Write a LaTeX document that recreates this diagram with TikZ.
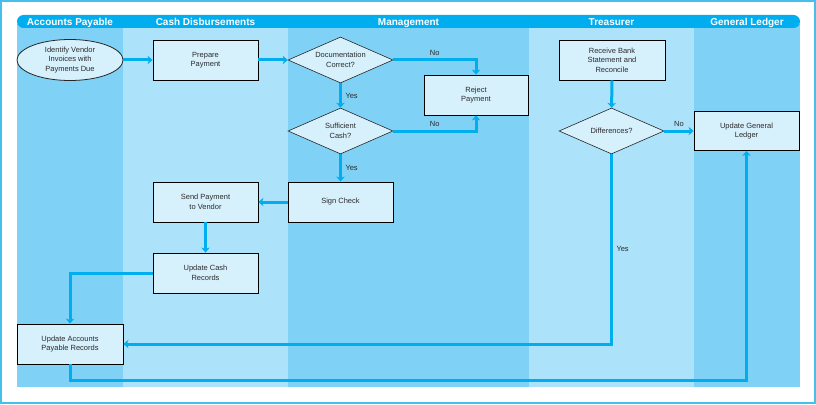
\documentclass[tikz,border=0pt]{standalone}
\usepackage{fontspec}
\setmainfont{Liberation Sans}
\usetikzlibrary{shapes.geometric,arrows.meta}
\definecolor{cyanline}{HTML}{00AEEF}
\definecolor{framec}{HTML}{45BFEC}
\definecolor{lanemid}{HTML}{7FD1F5}
\definecolor{lanelight}{HTML}{ACE2FA}
\definecolor{nodefill}{HTML}{D6F0FC}
\definecolor{txt}{HTML}{2B2B2B}
\begin{document}
\begin{tikzpicture}[x=1pt,y=-1pt,
  font=\fontsize{7.5}{9.5}\selectfont,
  stepbox/.style={draw=black, line width=0.9pt, fill=nodefill, text=txt, align=center,
    minimum width=105pt, minimum height=40pt, inner sep=0pt},
  decision/.style={diamond, draw=black!85, line width=0.6pt, fill=nodefill, text=txt, align=center,
    minimum width=105pt, minimum height=46pt, inner sep=0pt, shape aspect=2.28},
  terminal/.style={ellipse, draw=black!85, line width=0.8pt, fill=nodefill, text=txt, align=center,
    minimum width=106pt, minimum height=41pt, inner sep=0pt},
  conn/.style={draw=cyanline, line width=3pt, -{Stealth[length=5pt,width=8.5pt,inset=1.5pt]}},
  lbl/.style={text=txt, inner sep=1.5pt},
  hdrtext/.style={text=white, font=\fontsize{10}{12}\selectfont\bfseries, anchor=base, inner sep=0pt}
]
\useasboundingbox (0,0) rectangle (816,404);
\fill[white] (0,0) rectangle (816,404);
\draw[framec, line width=1.5pt] (1,1) rectangle (815,403);
% lanes
\fill[lanemid] (17,24) rectangle (123,387);
\fill[lanelight] (123,24) rectangle (288,387);
\fill[lanemid] (288,24) rectangle (529,387);
\fill[lanelight] (529,24) rectangle (694,387);
\fill[lanemid] (694,24) rectangle (800,387);
% header
\fill[cyanline, rounded corners=6.5pt] (17,15) rectangle (800,28);
\node[hdrtext] (h1) at (70,25.3) {Accounts Payable};
\node[hdrtext] (h2) at (205.5,25.3) {Cash Disbursements};
\node[hdrtext] (h3) at (408.5,25.3) {Management};
\node[hdrtext] (h4) at (611.5,25.3) {Treasurer};
\node[hdrtext] (h5) at (747,25.3) {General Ledger};
% nodes
\node[terminal] (ident) at (70,60) {Identify Vendor\\Invoices with\\Payments Due};
\node[stepbox] (prep) at (205.5,60) {Prepare\\Payment};
\node[decision] (doc) at (340.5,60) {Documentation\\Correct?};
\node[stepbox, minimum width=104pt] (reject) at (476,95) {Reject\\Payment};
\node[decision] (suff) at (340.5,131) {Sufficient\\Cash?};
\node[stepbox] (sign) at (340.5,202) {Sign Check};
\node[stepbox] (send) at (205.5,202) {Send Payment\\to Vendor};
\node[stepbox] (cash) at (205.5,273) {Update Cash\\Records};
\node[stepbox, minimum width=106pt] (apr) at (70,344) {Update Accounts\\Payable Records};
\node[stepbox, minimum width=106pt] (bank) at (612,60) {Receive Bank\\Statement and\\Reconcile};
\node[decision] (diff) at (611.5,131) {Differences?};
\node[stepbox, minimum width=105pt, minimum height=39pt] (gl) at (746.5,131) {Update General\\Ledger};
\coordinate (botline) at (0,380);
% connectors
\draw[conn] (ident) -- (prep);
\draw[conn] (prep) -- (doc);
\draw[conn] (doc.east) -| node[lbl, pos=0.25, above, yshift=1pt] {No} (reject.north);
\draw[conn] (doc.south) -- node[lbl, right, xshift=2pt] {Yes} (suff.north);
\draw[conn] (suff.east) -| node[lbl, pos=0.25, above, yshift=1pt] {No} (reject.south);
\draw[conn] (suff.south) -- node[lbl, right, xshift=2pt] {Yes} (sign.north);
\draw[conn] (sign) -- (send);
\draw[conn] (send) -- (cash);
\draw[conn] (cash.west) -| (apr.north);
\draw[conn] (bank) -- (diff);
\draw[conn] (diff.east) -- node[lbl, above, yshift=1pt] {No} (gl.west);
\draw[conn] (diff.south) |- node[lbl, pos=0.25, right, xshift=2pt] {Yes} (apr.east);
\draw[conn] (apr.south) -- (apr.south |- botline) -| (gl.south);
\end{tikzpicture}
\end{document}
